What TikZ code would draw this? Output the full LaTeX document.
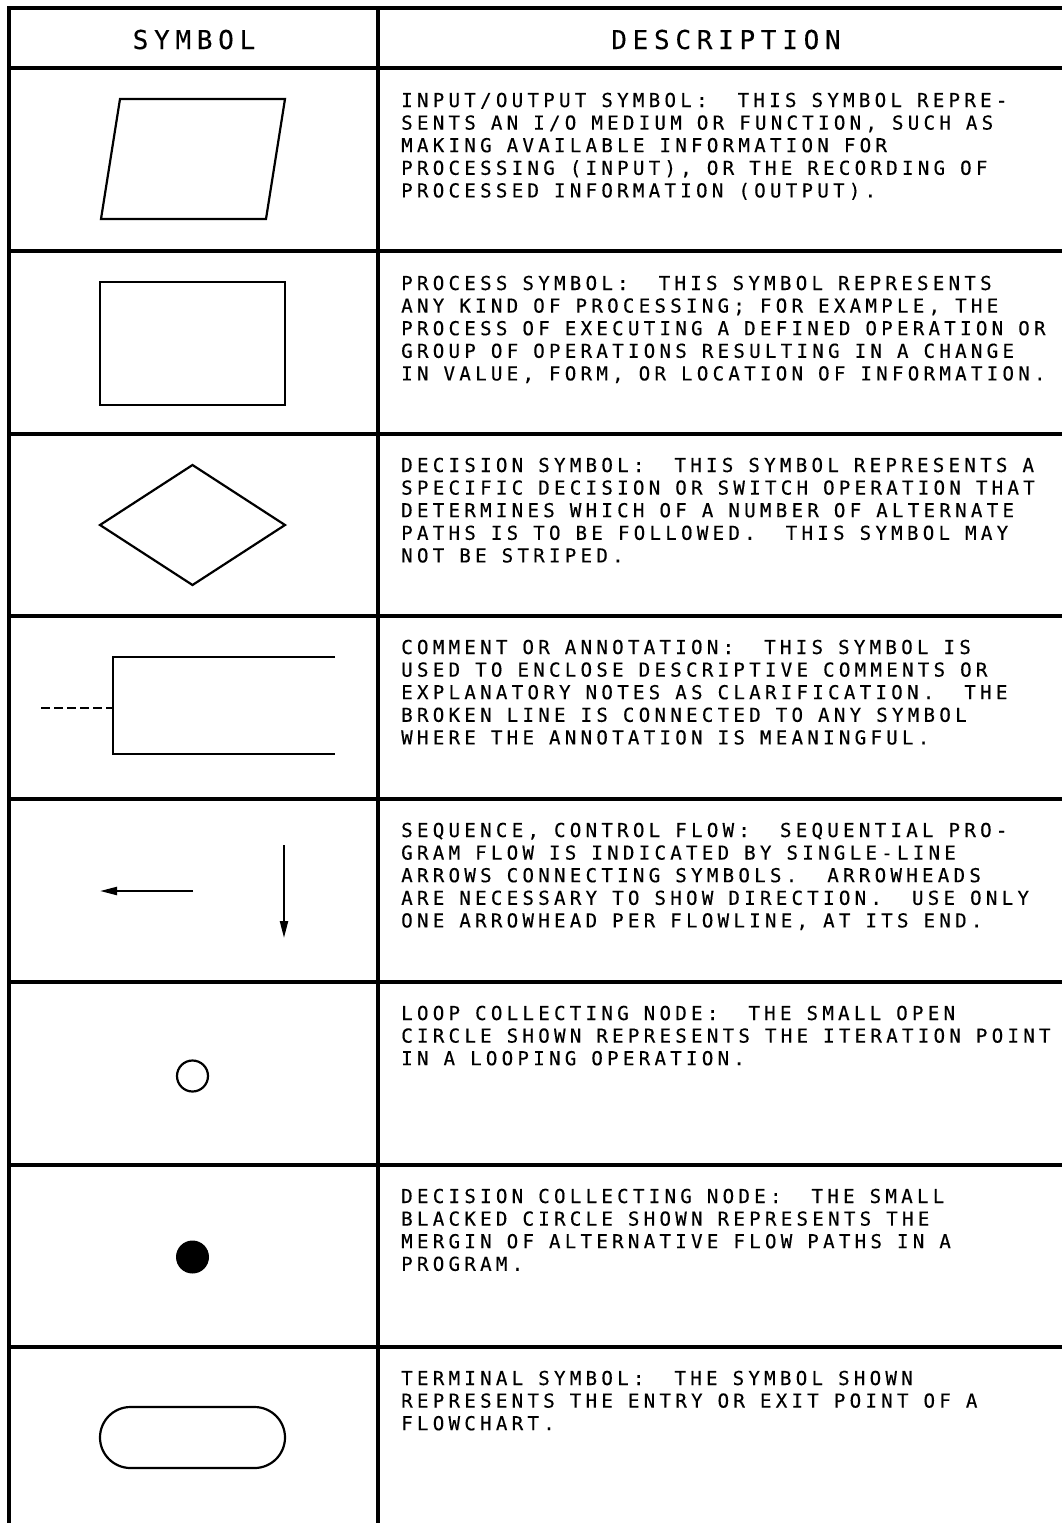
\documentclass[tikz,border=0pt]{standalone}
\usepackage{fontspec}
\usetikzlibrary{arrows.meta,shapes.misc}
\newfontfamily\chartfont[LetterSpace=22,FakeBold=0.3]{DejaVu Sans Mono}
\newcommand\desctext{\chartfont\fontsize{19.2}{22.6}\selectfont\fontdimen2\font=15pt\relax\frenchspacing}
\newcommand\headtext{\chartfont\fontsize{26}{30}\selectfont}

\begin{document}
\begin{tikzpicture}[
  x=1pt, y=-1pt,
  frame/.style={line width=3.5pt},
  sym/.style={draw, line width=2.2pt},
  head/.style={anchor=base, inner sep=0pt, font=\headtext},
  desc/.style={anchor=base west, inner sep=0pt, text width=700pt, text justified, font=\desctext},
  flow/.style={line width=2.2pt, -{Triangle[length=17pt,width=8pt]}}
]
\useasboundingbox (0,0) rectangle (1062,1523);

% table
\draw[frame] (9,1523) -- (9,8) -- (1062,8);
\draw[frame] (378,8) -- (378,1523);
\foreach \y in {68,251,434,616,799,982,1165,1347}
  \draw[frame] (9,\y) -- (1062,\y);

\node[head] (symhead) at (194,49) {SYMBOL};
\node[head] (deschead) at (726,49) {DESCRIPTION};

% descriptions
\node[desc] (ioDesc) at (401,107) {INPUT/OUTPUT SYMBOL:\ \ THIS SYMBOL REPRE-\\
  SENTS AN I/O MEDIUM OR FUNCTION, SUCH AS\\
  MAKING AVAILABLE INFORMATION FOR\\
  PROCESSING (INPUT), OR THE RECORDING OF\\
  PROCESSED INFORMATION (OUTPUT).};
\node[desc] (procDesc) at (401,290) {PROCESS SYMBOL:\ \ THIS SYMBOL REPRESENTS\\
  ANY KIND OF PROCESSING; FOR EXAMPLE, THE\\
  PROCESS OF EXECUTING A DEFINED OPERATION OR\\
  GROUP OF OPERATIONS RESULTING IN A CHANGE\\
  IN VALUE, FORM, OR LOCATION OF INFORMATION.};
\node[desc] (decDesc) at (401,472) {DECISION SYMBOL:\ \ THIS SYMBOL REPRESENTS A\\
  SPECIFIC DECISION OR SWITCH OPERATION THAT\\
  DETERMINES WHICH OF A NUMBER OF ALTERNATE\\
  PATHS IS TO BE FOLLOWED.\ \ THIS SYMBOL MAY\\
  NOT BE STRIPED.};
\node[desc] (noteDesc) at (401,654) {COMMENT OR ANNOTATION:\ \ THIS SYMBOL IS\\
  USED TO ENCLOSE DESCRIPTIVE COMMENTS OR\\
  EXPLANATORY NOTES AS CLARIFICATION.\ \ THE\\
  BROKEN LINE IS CONNECTED TO ANY SYMBOL\\
  WHERE THE ANNOTATION IS MEANINGFUL.};
\node[desc] (flowDesc) at (401,837) {SEQUENCE, CONTROL FLOW:\ \ SEQUENTIAL PRO-\\
  GRAM FLOW IS INDICATED BY SINGLE-LINE\\
  ARROWS CONNECTING SYMBOLS.\ \ ARROWHEADS\\
  ARE NECESSARY TO SHOW DIRECTION.\ \ USE ONLY\\
  ONE ARROWHEAD PER FLOWLINE, AT ITS END.};
\node[desc] (loopDesc) at (401,1020) {LOOP COLLECTING NODE:\ \ THE SMALL OPEN\\
  CIRCLE SHOWN REPRESENTS THE ITERATION POINT\\
  IN A LOOPING OPERATION.};
\node[desc] (mergeDesc) at (401,1203) {DECISION COLLECTING NODE:\ \ THE SMALL\\
  BLACKED CIRCLE SHOWN REPRESENTS THE\\
  MERGIN OF ALTERNATIVE FLOW PATHS IN A\\
  PROGRAM.};
\node[desc] (termDesc) at (401,1385) {TERMINAL SYMBOL:\ \ THE SYMBOL SHOWN\\
  REPRESENTS THE ENTRY OR EXIT POINT OF A\\
  FLOWCHART.};

% symbols
\draw[sym] (120,99) -- (285,99) -- (266,219) -- (101,219) -- cycle;
\node[sym, minimum width=185pt, minimum height=123pt, inner sep=0pt] (procSym) at (192.5,343.5) {};
\draw[sym] (100,525) -- (192.5,465) -- (285,525) -- (192.5,585) -- cycle;
\draw[sym] (335,657) -- (113,657) -- (113,754) -- (335,754);
\coordinate (noteTie) at (113,708);
\coordinate (noteEnd) at (41,708);
\draw[line width=2pt, dash pattern=on 9pt off 4pt] (noteEnd) -- (noteTie);

\coordinate (hStart) at (193,891);
\coordinate (hEnd) at (100,891);
\draw[flow] (hStart) -- (hEnd);
\coordinate (vStart) at (284,845);
\coordinate (vEnd) at (284,938);
\draw[flow] (vStart) -- (vEnd);

\node[sym, circle, minimum size=31pt, inner sep=0pt] (loopSym) at (192.5,1076) {};
\node[circle, fill, minimum size=33pt, inner sep=0pt] (mergeSym) at (192.5,1257) {};
\node[sym, rounded rectangle, minimum width=185pt, minimum height=61pt, inner sep=0pt] (termSym) at (192.5,1437.5) {};
\end{tikzpicture}
\end{document}
